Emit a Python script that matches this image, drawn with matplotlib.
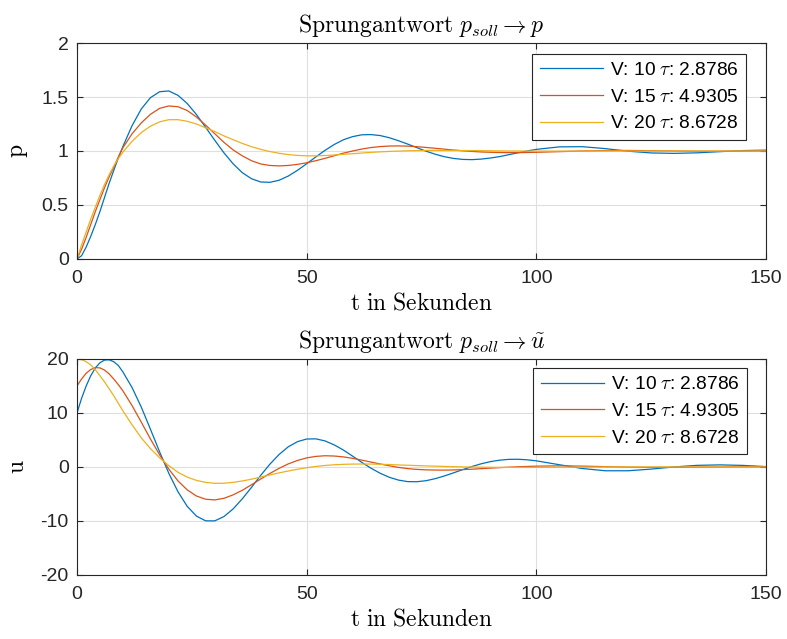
import matplotlib
matplotlib.use('Agg')
import matplotlib.pyplot as plt
import numpy as np

plt.rcParams['mathtext.fontset'] = 'cm'
plt.rcParams['font.family'] = ['Liberation Sans', 'DejaVu Sans']
plt.rcParams['axes.unicode_minus'] = False

# Zeitachse in Sekunden
t = [0, 1, 2, 3, 4, 5, 6, 7, 8, 9, 10,
     12, 14, 16, 18, 20, 22, 24, 26, 28, 30, 32, 34, 36, 38, 40,
     42, 44, 46, 48, 50, 52, 54, 56, 58, 60, 62, 64, 66, 68, 70,
     72, 74, 76, 78, 80, 82, 84, 86, 88, 90, 92, 94, 96, 98, 100,
     105, 110, 115, 120, 125, 130, 135, 140, 145, 150]

labels = [r'V: 10 $\tau$: 2.8786', r'V: 15 $\tau$: 4.9305', r'V: 20 $\tau$: 8.6728']
colors = ['#0072BD', '#D95319', '#EDB120']

# Druck p
p_v10 = [0, 0.03, 0.11, 0.21, 0.32, 0.44, 0.57, 0.70, 0.82, 0.935, 1.042,
         1.235, 1.389, 1.494, 1.549, 1.556, 1.515, 1.44, 1.338, 1.22, 1.099, 0.983, 0.881, 0.799, 0.743, 0.713,
         0.71, 0.729, 0.768, 0.821, 0.882, 0.945, 1.006, 1.06, 1.104, 1.133, 1.15, 1.152, 1.143, 1.123, 1.095,
         1.064, 1.031, 0.998, 0.97, 0.947, 0.931, 0.922, 0.92, 0.925, 0.935, 0.948, 0.966, 0.983, 1.0, 1.015,
         1.038, 1.04, 1.022, 0.998, 0.982, 0.978, 0.983, 0.994, 1.004, 1.008]
p_v15 = [0, 0.09, 0.2, 0.32, 0.44, 0.55, 0.66, 0.76, 0.85, 0.945, 1.03,
         1.16, 1.26, 1.34, 1.395, 1.417, 1.41, 1.375, 1.315, 1.24, 1.16, 1.08, 1.01, 0.955, 0.91, 0.88,
         0.866, 0.862, 0.866, 0.876, 0.891, 0.91, 0.932, 0.956, 0.98, 1.0, 1.018, 1.032, 1.041, 1.046, 1.047,
         1.045, 1.04, 1.033, 1.025, 1.017, 1.009, 1.002, 0.996, 0.991, 0.988, 0.986, 0.985, 0.985, 0.986, 0.988,
         0.994, 1.0, 1.004, 1.005, 1.003, 1.0, 0.998, 0.998, 0.999, 1.0]
p_v20 = [0, 0.13, 0.25, 0.37, 0.48, 0.59, 0.69, 0.78, 0.86, 0.93, 0.99,
         1.09, 1.17, 1.23, 1.27, 1.29, 1.29, 1.275, 1.25, 1.215, 1.18, 1.14, 1.105, 1.07, 1.04, 1.015,
         0.995, 0.979, 0.967, 0.959, 0.955, 0.955, 0.958, 0.963, 0.969, 0.975, 0.981, 0.987, 0.992, 0.996, 0.999,
         1.002, 1.004, 1.005, 1.005, 1.005, 1.005, 1.004, 1.004, 1.003, 1.002, 1.001, 1.0, 1.0, 0.999, 0.999,
         0.999, 0.999, 1.0, 1.0, 1.0, 1.0, 1.0, 1.0, 1.0, 1.0]

# Stellgroesse u
u_v10 = [10, 12.7, 15.0, 16.9, 18.35, 19.3, 19.8, 19.85, 19.5, 18.8, 17.6,
         14.7, 11.09, 6.98, 2.78, -1.18, -4.6, -7.29, -9.09, -9.97, -9.98, -9.18, -7.76, -5.89, -3.77, -1.55,
         0.52, 2.32, 3.74, 4.69, 5.18, 5.21, 4.83, 4.09, 3.14, 2.01, 0.86, -0.22, -1.16, -1.91, -2.43,
         -2.71, -2.73, -2.54, -2.16, -1.66, -1.08, -0.48, 0.09, 0.59, 0.99, 1.26, 1.41, 1.43, 1.33, 1.14,
         0.42, -0.28, -0.7, -0.7, -0.39, 0.01, 0.3, 0.39, 0.29, 0.07]
u_v15 = [15, 16.3, 17.35, 18.05, 18.4, 18.35, 17.95, 17.25, 16.3, 15.25, 14.1,
         11.36, 8.3, 5.18, 2.23, -0.4, -2.59, -4.24, -5.37, -5.97, -6.1, -5.8, -5.16, -4.31, -3.29, -2.23,
         -1.2, -0.25, 0.57, 1.21, 1.68, 1.96, 2.08, 2.03, 1.87, 1.6, 1.27, 0.91, 0.56, 0.22, -0.08,
         -0.3, -0.45, -0.53, -0.57, -0.58, -0.55, -0.49, -0.41, -0.31, -0.21, -0.12, -0.04, 0.04, 0.1, 0.15,
         0.21, 0.16, 0.06, -0.03, -0.07, -0.06, -0.03, 0.0, 0.02, 0.02]
u_v20 = [20, 19.88, 19.5, 18.9, 18.0, 16.9, 15.75, 14.5, 13.2, 11.8, 10.4,
         7.8, 5.4, 3.4, 1.7, 0.25, -0.99, -1.87, -2.48, -2.85, -3.02, -3.01, -2.85, -2.59, -2.26, -1.87,
         -1.48, -1.09, -0.75, -0.42, -0.14, 0.1, 0.28, 0.41, 0.49, 0.54, 0.55, 0.54, 0.5, 0.45, 0.38,
         0.32, 0.26, 0.2, 0.15, 0.1, 0.06, 0.02, -0.01, -0.04, -0.06, -0.07, -0.08, -0.08, -0.08, -0.07,
         -0.05, -0.03, -0.01, 0.0, 0.01, 0.01, 0.01, 0.0, 0.0, 0.0]

fig = plt.figure(figsize=(7.87, 6.39), dpi=100)
ax1 = fig.add_axes([0.0978, 0.5947, 0.8755, 0.338])
ax2 = fig.add_axes([0.0978, 0.1002, 0.8755, 0.338])

dark = '#262626'


def style(ax):
    ax.set_xlim(0, 150)
    ax.set_xticks([0, 50, 100, 150])
    ax.grid(True, color='#dfdfdf', linewidth=0.8)
    ax.set_axisbelow(True)
    ax.tick_params(direction='in', top=True, right=True, length=4, width=0.8,
                   colors=dark, labelsize=14)
    ax.tick_params(axis='x', pad=8)
    ax.tick_params(axis='y', pad=6)
    for s in ax.spines.values():
        s.set_color(dark)
        s.set_linewidth(0.8)


for y, c, lab in zip([p_v10, p_v15, p_v20], colors, labels):
    ax1.plot(t, y, color=c, linewidth=0.9, label=lab)
style(ax1)
ax1.set_ylim(0, 2)
ax1.set_yticks([0, 0.5, 1, 1.5, 2])
ax1.set_yticklabels(['0', '0.5', '1', '1.5', '2'])
ax1.set_title(r'$\mathrm{Sprungantwort}\ p_{soll} \rightarrow p$', fontsize=17, pad=8)
ax1.set_xlabel(r'$\mathrm{t\ in\ Sekunden}$', fontsize=17, labelpad=4)
ax1.set_ylabel(r'$\mathrm{p}$', fontsize=17, labelpad=8)

for y, c, lab in zip([u_v10, u_v15, u_v20], colors, labels):
    ax2.plot(t, y, color=c, linewidth=0.9, label=lab)
style(ax2)
ax2.set_ylim(-20, 20)
ax2.set_yticks([-20, -10, 0, 10, 20])
ax2.set_title(r'$\mathrm{Sprungantwort}\ p_{soll} \rightarrow \tilde{u}$', fontsize=17, pad=8)
ax2.set_xlabel(r'$\mathrm{t\ in\ Sekunden}$', fontsize=17, labelpad=4)
ax2.set_ylabel(r'$\mathrm{u}$', fontsize=17, labelpad=8)

for ax, anchor in [(ax1, (0.971, 0.949)), (ax2, (0.973, 0.957))]:
    leg = ax.legend(loc='upper right', bbox_to_anchor=anchor, borderaxespad=0,
                    fontsize=13.8, handlelength=3.3, handletextpad=0.35,
                    labelspacing=0.48, borderpad=0.4, fancybox=False, framealpha=1)
    leg.get_frame().set_edgecolor(dark)
    leg.get_frame().set_linewidth(0.8)

plt.savefig('out.png', dpi=100)
